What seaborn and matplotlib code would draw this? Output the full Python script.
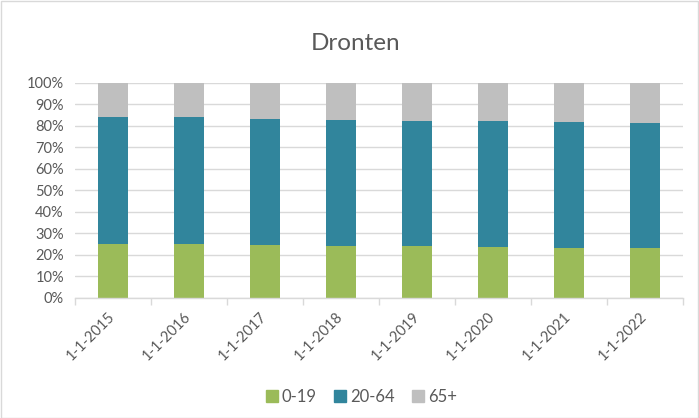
import matplotlib
matplotlib.use("Agg")
import matplotlib.pyplot as plt
import seaborn as sns
import numpy as np
import pandas as pd
from matplotlib.patches import Rectangle
from matplotlib.lines import Line2D
from matplotlib.ticker import PercentFormatter, MultipleLocator

dates = ["1-1-2015", "1-1-2016", "1-1-2017", "1-1-2018",
         "1-1-2019", "1-1-2020", "1-1-2021", "1-1-2022"]
age_0_19 = [25.1, 25.1, 24.5, 24.2, 24.2, 23.6, 23.3, 23.3]
age_20_64 = [59.1, 58.8, 58.5, 58.4, 58.0, 58.6, 58.4, 58.0]
age_65_plus = [15.8, 16.1, 17.0, 17.4, 17.8, 17.8, 18.3, 18.7]

series = ["0-19", "20-64", "65+"]
colors = ["#9bbb59", "#31859c", "#bfbfbf"]

df = pd.DataFrame({"date": dates, "0-19": age_0_19, "20-64": age_20_64, "65+": age_65_plus})

sns.set_theme(style="white")
plt.rcParams["font.family"] = ["Lato", "DejaVu Sans"]

fig = plt.figure(figsize=(6.99, 4.18), dpi=100)
ax = fig.add_axes([75 / 699, 1 - 297.7 / 418, (683 - 75) / 699, (297.7 - 82.7) / 418])

bottom = np.zeros(len(dates))
for name, col in zip(series, colors):
    sns.barplot(data=df, x="date", y=name, color=col, bottom=bottom, width=0.4,
                ax=ax, label=name, saturation=1, linewidth=0)
    bottom = bottom + df[name].to_numpy()

ax.set_xlim(-0.5, len(dates) - 0.5)
ax.set_ylim(0, 100)
ax.yaxis.set_major_locator(MultipleLocator(10))
ax.yaxis.set_major_formatter(PercentFormatter(100, decimals=0))
ax.grid(axis="y", color="#d9d9d9", linewidth=1)
ax.set_axisbelow(True)
for s in ["top", "right", "left"]:
    ax.spines[s].set_visible(False)
ax.spines["bottom"].set_color("#d9d9d9")
ax.spines["bottom"].set_linewidth(1)
ax.set_xlabel("")
ax.set_ylabel("")

ax.set_xticks(np.arange(len(dates)))
ax.set_xticklabels(dates, rotation=45, ha="right", va="center", rotation_mode="anchor",
                   fontsize=10.5, color="#595959")
ax.tick_params(axis="x", length=0, pad=12)
ax.set_xticks(np.arange(-0.5, len(dates)), minor=True)
ax.tick_params(axis="x", which="minor", length=5, color="#d9d9d9", width=1, bottom=True)
ax.tick_params(axis="y", length=0, labelsize=10.5, labelcolor="#595959", pad=8)

fig.text(356 / 699, 1 - 43 / 418, "Dronten", ha="center", va="center",
         fontsize=17.5, color="#595959")

if ax.get_legend():
    ax.get_legend().remove()
hs = [Line2D([], [], marker="s", linestyle="", markersize=8, color=c) for c in colors]
fig.legend(hs, series, loc="center", bbox_to_anchor=(360 / 699, 1 - 397 / 418), ncol=3,
           frameon=False, fontsize=12, labelcolor="#595959", handletextpad=0.1,
           handlelength=1.0, columnspacing=0.9)

fig.patches.append(Rectangle((0.5 / 699, 0.5 / 418), 697.5 / 699, 416.5 / 418,
                             transform=fig.transFigure, fill=False,
                             edgecolor="#d9d9d9", linewidth=1))

fig.savefig("out.png", dpi=100)
